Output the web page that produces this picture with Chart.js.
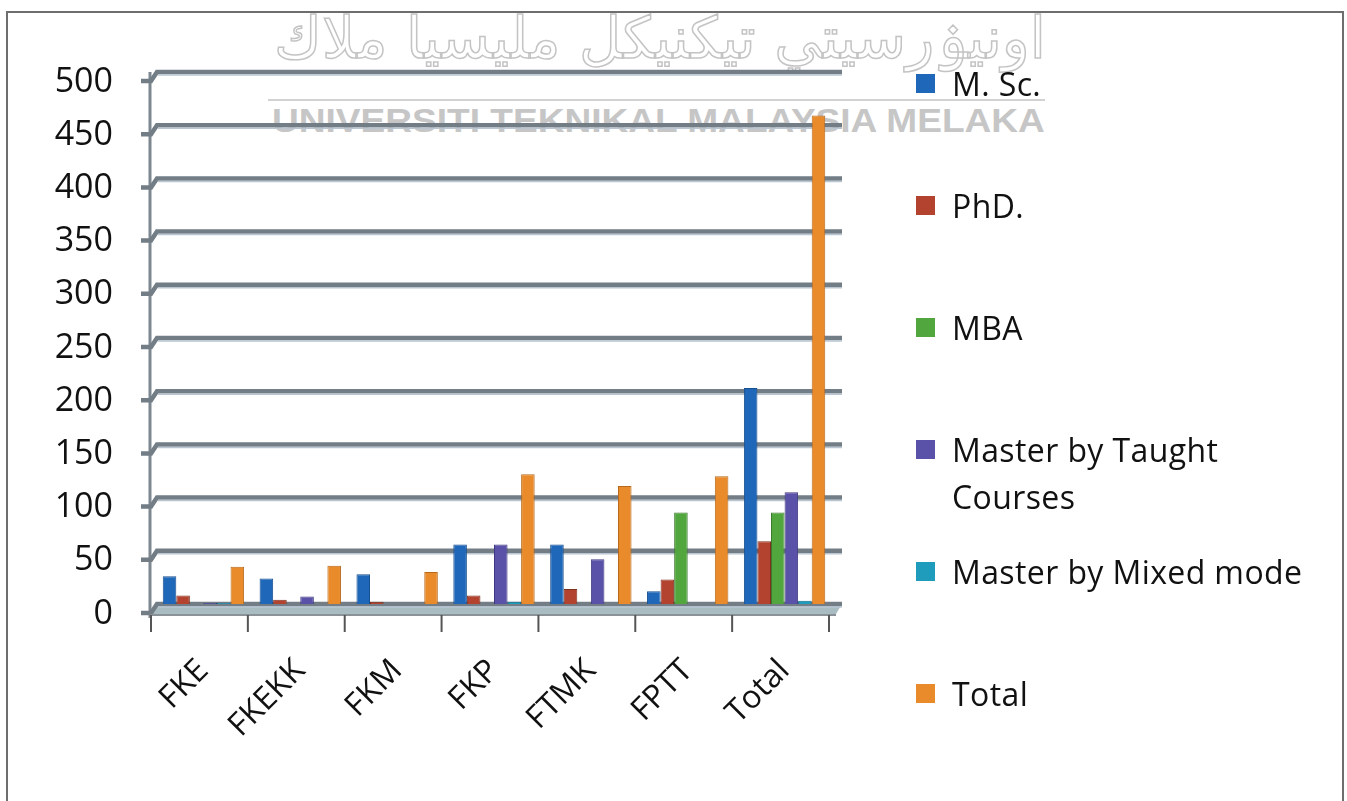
<!DOCTYPE html>
<html>
<head>
<meta charset="utf-8">
<script src="https://cdn.jsdelivr.net/npm/chart.js@4.4.1/dist/chart.umd.min.js"></script>
<style>
  body { margin: 0; background: #fff; width: 1347px; height: 801px; overflow: hidden; position: relative; font-family: "Open Sans", sans-serif; }
  #frame { position: absolute; left: 6px; top: 11px; width: 1334px; height: 800px; border: 2px solid #6e6e6e; border-bottom: none; }
  .wm-ar { position: absolute; left: 265px; top: 4px; width: 790px; text-align: center; direction: rtl; font-family: "DejaVu Sans"; font-size: 58px; color: transparent; -webkit-text-stroke: 1.5px #c4c4c4; white-space: nowrap; }
  .wm-line { position: absolute; left: 268px; top: 99px; width: 777px; height: 2px; background: #d2d2d2; }
  .wm-en { position: absolute; left: 272px; top: 101px; font-family: "Liberation Sans"; font-weight: bold; font-size: 34px; color: #c6c6c6; white-space: nowrap; transform: scaleX(1.09); transform-origin: left top; }
  #chart { position: absolute; left: 0; top: 0; }
  .item { position: absolute; left: 916px; width: 420px; font-size: 32px; letter-spacing: 0.4px; line-height: 47px; color: #111; }
  .item .mk { position: absolute; left: 0; top: 14px; width: 19px; height: 19px; }
  .item .tx { margin-left: 36px; width: 370px; }
</style>
</head>
<body>
<div id="frame"></div>
<div class="wm-ar">اونيۏرسيتي تيكنيكل مليسيا ملاك</div>
<div class="wm-line"></div>
<div class="wm-en">UNIVERSITI TEKNIKAL MALAYSIA MELAKA</div>
<canvas id="chart" width="1347" height="801"></canvas>
<div id="legend"></div>
<script>
const faculties = ["FKE", "FKEKK", "FKM", "FKP", "FTMK", "FPTT", "Total"];
const seriesNames = ["M. Sc.", "PhD.", "MBA", "Master by Taught Courses", "Master by Mixed mode", "Total"];
const msc    = [26, 24, 28, 56, 56, 12, 203];
const phd    = [8, 4, 2, 8, 14, 23, 59];
const mba    = [0, 0, 0, 0, 0, 86, 86];
const taught = [1, 7, 0, 56, 42, 0, 105];
const mixed  = [1, 0, 0, 2, 0, 0, 3];
const total  = [35, 36, 30, 122, 111, 120, 459];
const yTicks = [0, 50, 100, 150, 200, 250, 300, 350, 400, 450, 500];

const seriesValues = [msc, phd, mba, taught, mixed, total];
const fillColors = ["#1f67b9", "#b3432e", "#52a63e", "#5a51a8", "#1f9cbc", "#e98b2b"];
const edgeColors = ["#174f8f", "#80301f", "#3b7a2c", "#3f3880", "#167590", "#b8691c"];

const wall = {
  id: "wall",
  beforeDatasetsDraw(chart) {
    const { ctx, chartArea: a, scales: { x, y } } = chart;
    const y0 = y.getPixelForValue(0);
    const yTop = y.getPixelForValue(500);
    ctx.save();
    // floor
    ctx.fillStyle = "#a9bcc2";
    ctx.beginPath();
    ctx.moveTo(a.left - 4, y0 + 10);
    ctx.lineTo(a.left + 2, y0);
    ctx.lineTo(a.right + 9, y0);
    ctx.lineTo(a.right + 3, y0 + 10);
    ctx.closePath();
    ctx.fill();
    // back wall axis
    ctx.strokeStyle = "#7d878f";
    ctx.lineWidth = 3;
    ctx.beginPath();
    ctx.moveTo(a.left - 5, yTop);
    ctx.lineTo(a.left - 5, y0 + 14);
    ctx.stroke();
    // gridlines
    yTicks.forEach(v => {
      const py = y.getPixelForValue(v);
      ctx.strokeStyle = "#737d86";
      ctx.lineWidth = 4.5;
      ctx.beginPath();
      ctx.moveTo(a.left - 14, py + 9);
      ctx.lineTo(a.left - 4, py + 9);
      ctx.lineTo(a.left + 2, py);
      ctx.lineTo(a.right + 9, py);
      ctx.stroke();
      ctx.strokeStyle = "#b9c6d2";
      ctx.lineWidth = 1.5;
      ctx.beginPath();
      ctx.moveTo(a.left + 3, py + 3);
      ctx.lineTo(a.right + 9, py + 3);
      ctx.stroke();
    });
    // front edge of floor with category ticks
    const fy = y0 + 11;
    ctx.strokeStyle = "#8a9298";
    ctx.lineWidth = 2;
    ctx.beginPath();
    ctx.moveTo(a.left - 5, fy);
    ctx.lineTo(a.right + 3, fy);
    ctx.stroke();
    ctx.strokeStyle = "#555";
    ctx.lineWidth = 2;
    for (let i = 0; i <= faculties.length; i++) {
      const px = x.getPixelForValue(i - 0.5) - 4;
      ctx.beginPath();
      ctx.moveTo(px, fy);
      ctx.lineTo(px, fy + 17);
      ctx.stroke();
    }
    ctx.restore();
  }
};

const ctx = document.getElementById("chart").getContext("2d");
const chart = new Chart(ctx, {
  type: "bar",
  data: {
    labels: faculties,
    datasets: seriesNames.map((name, i) => ({
      label: name,
      data: seriesValues[i],
      backgroundColor: fillColors[i],
      borderColor: edgeColors[i],
      borderWidth: 1,
    })),
  },
  options: {
    responsive: false,
    animation: false,
    layout: { padding: { left: 11, right: 514, top: 72, bottom: 47 } },
    datasets: { bar: { categoryPercentage: 0.84, barPercentage: 1.0 } },
    plugins: { legend: { display: false }, tooltip: { enabled: false } },
    scales: {
      x: {
        grid: { display: false },
        border: { display: false },
        ticks: {
          autoSkip: false, maxRotation: 45, minRotation: 45, padding: 40,
          color: "#111", font: { family: "Open Sans", size: 32 },
        },
        afterFit(s) { s.height = 150; },
      },
      y: {
        min: 0, max: 500,
        grid: { display: false, drawTicks: false },
        border: { display: false },
        ticks: {
          stepSize: 50, padding: 42, labelOffset: 10,
          color: "#111", font: { family: "Open Sans", size: 34 },
        },
        afterFit(s) { s.width = 144; },
      },
    },
  },
  plugins: [wall],
});

// legend on the right, one item per series
const legend = document.getElementById("legend");
seriesNames.forEach((name, i) => {
  const item = document.createElement("div");
  item.className = "item";
  item.style.top = (60 + 122 * i) + "px";
  item.innerHTML = '<div class="mk" style="background:' + fillColors[i] + '"></div><div class="tx">' + name + "</div>";
  legend.appendChild(item);
});
</script>
</body>
</html>
